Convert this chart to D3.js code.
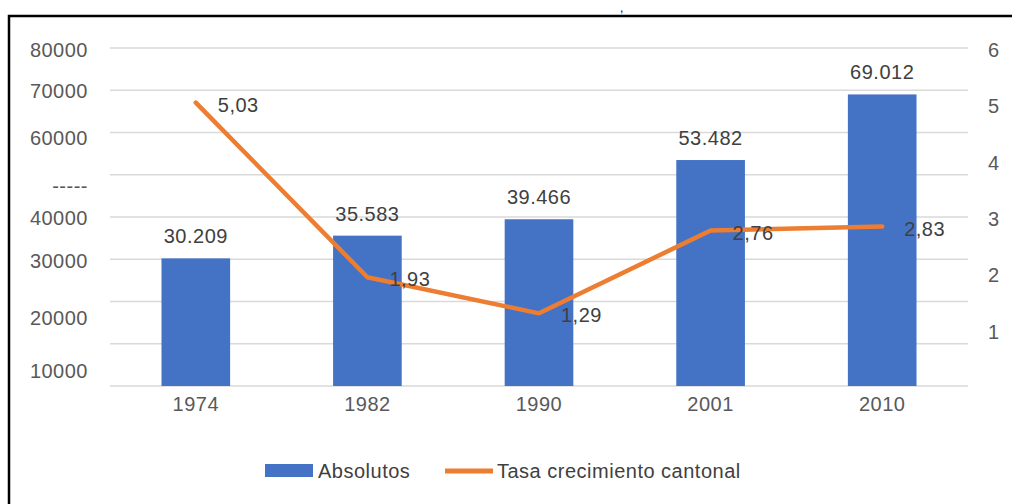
<!DOCTYPE html>
<html>
<head>
<meta charset="utf-8">
<script src="https://cdn.jsdelivr.net/npm/d3@7"></script>
<style>
  html, body { margin: 0; padding: 0; background: #fff; }
  svg { display: block; font-family: "Liberation Sans", Arial, sans-serif; letter-spacing: 0.5px; }
</style>
</head>
<body>
<svg id="chart" width="1012" height="504"></svg>
<script>
// ---- data ----
const years = ["1974", "1982", "1990", "2001", "2010"];
const absolutos = [30209, 35583, 39466, 53482, 69012];
const absolutosLabels = ["30.209", "35.583", "39.466", "53.482", "69.012"];
const tasa = [5.03, 1.93, 1.29, 2.76, 2.83];
const tasaLabels = ["5,03", "1,93", "1,29", "2,76", "2,83"];
const leftTicks = [10000, 20000, 30000, 40000, 50000, 60000, 70000, 80000];
const leftTickLabels = ["10000", "20000", "30000", "40000", "-----", "60000", "70000", "80000"];
const rightTicks = [1, 2, 3, 4, 5, 6];
const seriesNames = ["Absolutos", "Tasa crecimiento cantonal"];

// ---- layout ----
const svg = d3.select("#chart");
const plot = { left: 110, right: 968, top: 48, bottom: 386 };
const blue = "#4472C4", orange = "#ED7D31";
const FONT = "Liberation Sans, Arial, sans-serif";

// frame
svg.append("path")
  .attr("d", "M9,520 L9,16 L1020,16")
  .attr("fill", "none").attr("stroke", "#000").attr("stroke-width", 2.5);
svg.append("text").attr("x", 620).attr("y", 12).attr("font-size", 12).attr("fill", "#000").text(",");

const x = d3.scaleBand().domain(years).range([plot.left, plot.right]).paddingInner(0.6).paddingOuter(0.3);
const yL = d3.scaleLinear().domain([0, 80000]).range([plot.bottom, plot.top]);
const yR = d3.scaleLinear().domain([0, 6]).range([plot.bottom, plot.top]);

// gridlines
svg.append("g").selectAll("line").data([0].concat(leftTicks)).join("line")
  .attr("x1", plot.left).attr("x2", plot.right)
  .attr("y1", d => yL(d)).attr("y2", d => yL(d))
  .attr("stroke", "#d9d9d9").attr("stroke-width", 1.5);

// left axis labels (nudged as in the reference image)
const leftNudge = [27, 17, 2, 1, 11, 6, 1, 2];
const gL = svg.append("g").attr("transform", `translate(88,0)`)
  .call(d3.axisLeft(yL).tickValues(leftTicks).tickFormat((d, i) => leftTickLabels[i]).tickSize(0).tickPadding(0));
gL.select(".domain").remove();
gL.selectAll("text").attr("font-size", 20).attr("fill", "#595959")
  .attr("font-family", FONT)
  .attr("transform", (d, i) => `translate(0,${leftNudge[i]})`);

// right axis labels
const gR = svg.append("g").attr("transform", `translate(988,2)`)
  .call(d3.axisRight(yR).tickValues(rightTicks).tickFormat(d3.format("d")).tickSize(0).tickPadding(0));
gR.select(".domain").remove();
gR.selectAll("text").attr("font-size", 20).attr("fill", "#595959")
  .attr("font-family", FONT);

// category axis
const gX = svg.append("g").attr("transform", `translate(0,${plot.bottom})`)
  .call(d3.axisBottom(x).tickSize(0).tickPadding(25));
gX.select(".domain").remove();
gX.selectAll("text").attr("font-size", 20).attr("fill", "#595959")
  .attr("font-family", FONT).attr("dy", "0");

// bars
svg.append("g").selectAll("rect").data(absolutos).join("rect")
  .attr("x", (d, i) => x(years[i]))
  .attr("width", x.bandwidth())
  .attr("y", d => yL(d))
  .attr("height", d => yL(0) - yL(d))
  .attr("fill", blue);

// bar labels
svg.append("g").selectAll("text").data(absolutos).join("text")
  .attr("x", (d, i) => x(years[i]) + x.bandwidth() / 2)
  .attr("y", d => yL(d) - 15)
  .attr("text-anchor", "middle").attr("font-size", 20).attr("fill", "#404040")
  .text((d, i) => absolutosLabels[i]);

// line
const cx = (i) => x(years[i]) + x.bandwidth() / 2;
const line = d3.line().x((d, i) => cx(i)).y(d => yR(d));
svg.append("path").datum(tasa).attr("d", line)
  .attr("fill", "none").attr("stroke", orange).attr("stroke-width", 4.5)
  .attr("stroke-linejoin", "round").attr("stroke-linecap", "round");

// line labels
svg.append("g").selectAll("text").data(tasa).join("text")
  .attr("x", (d, i) => cx(i) + 22)
  .attr("y", d => yR(d) + 9)
  .attr("font-size", 20).attr("fill", "#404040")
  .text((d, i) => tasaLabels[i]);

// legend
const lg = svg.append("g");
lg.append("rect").attr("x", 265).attr("y", 464).attr("width", 48).attr("height", 13).attr("fill", blue);
lg.append("text").attr("x", 318).attr("y", 478).attr("font-size", 20).attr("fill", "#404040").text(seriesNames[0]);
lg.append("line").attr("x1", 445).attr("x2", 493).attr("y1", 471).attr("y2", 471)
  .attr("stroke", orange).attr("stroke-width", 5);
lg.append("text").attr("x", 497).attr("y", 478).attr("font-size", 20).attr("fill", "#404040").text(seriesNames[1]);
</script>
</body>
</html>
